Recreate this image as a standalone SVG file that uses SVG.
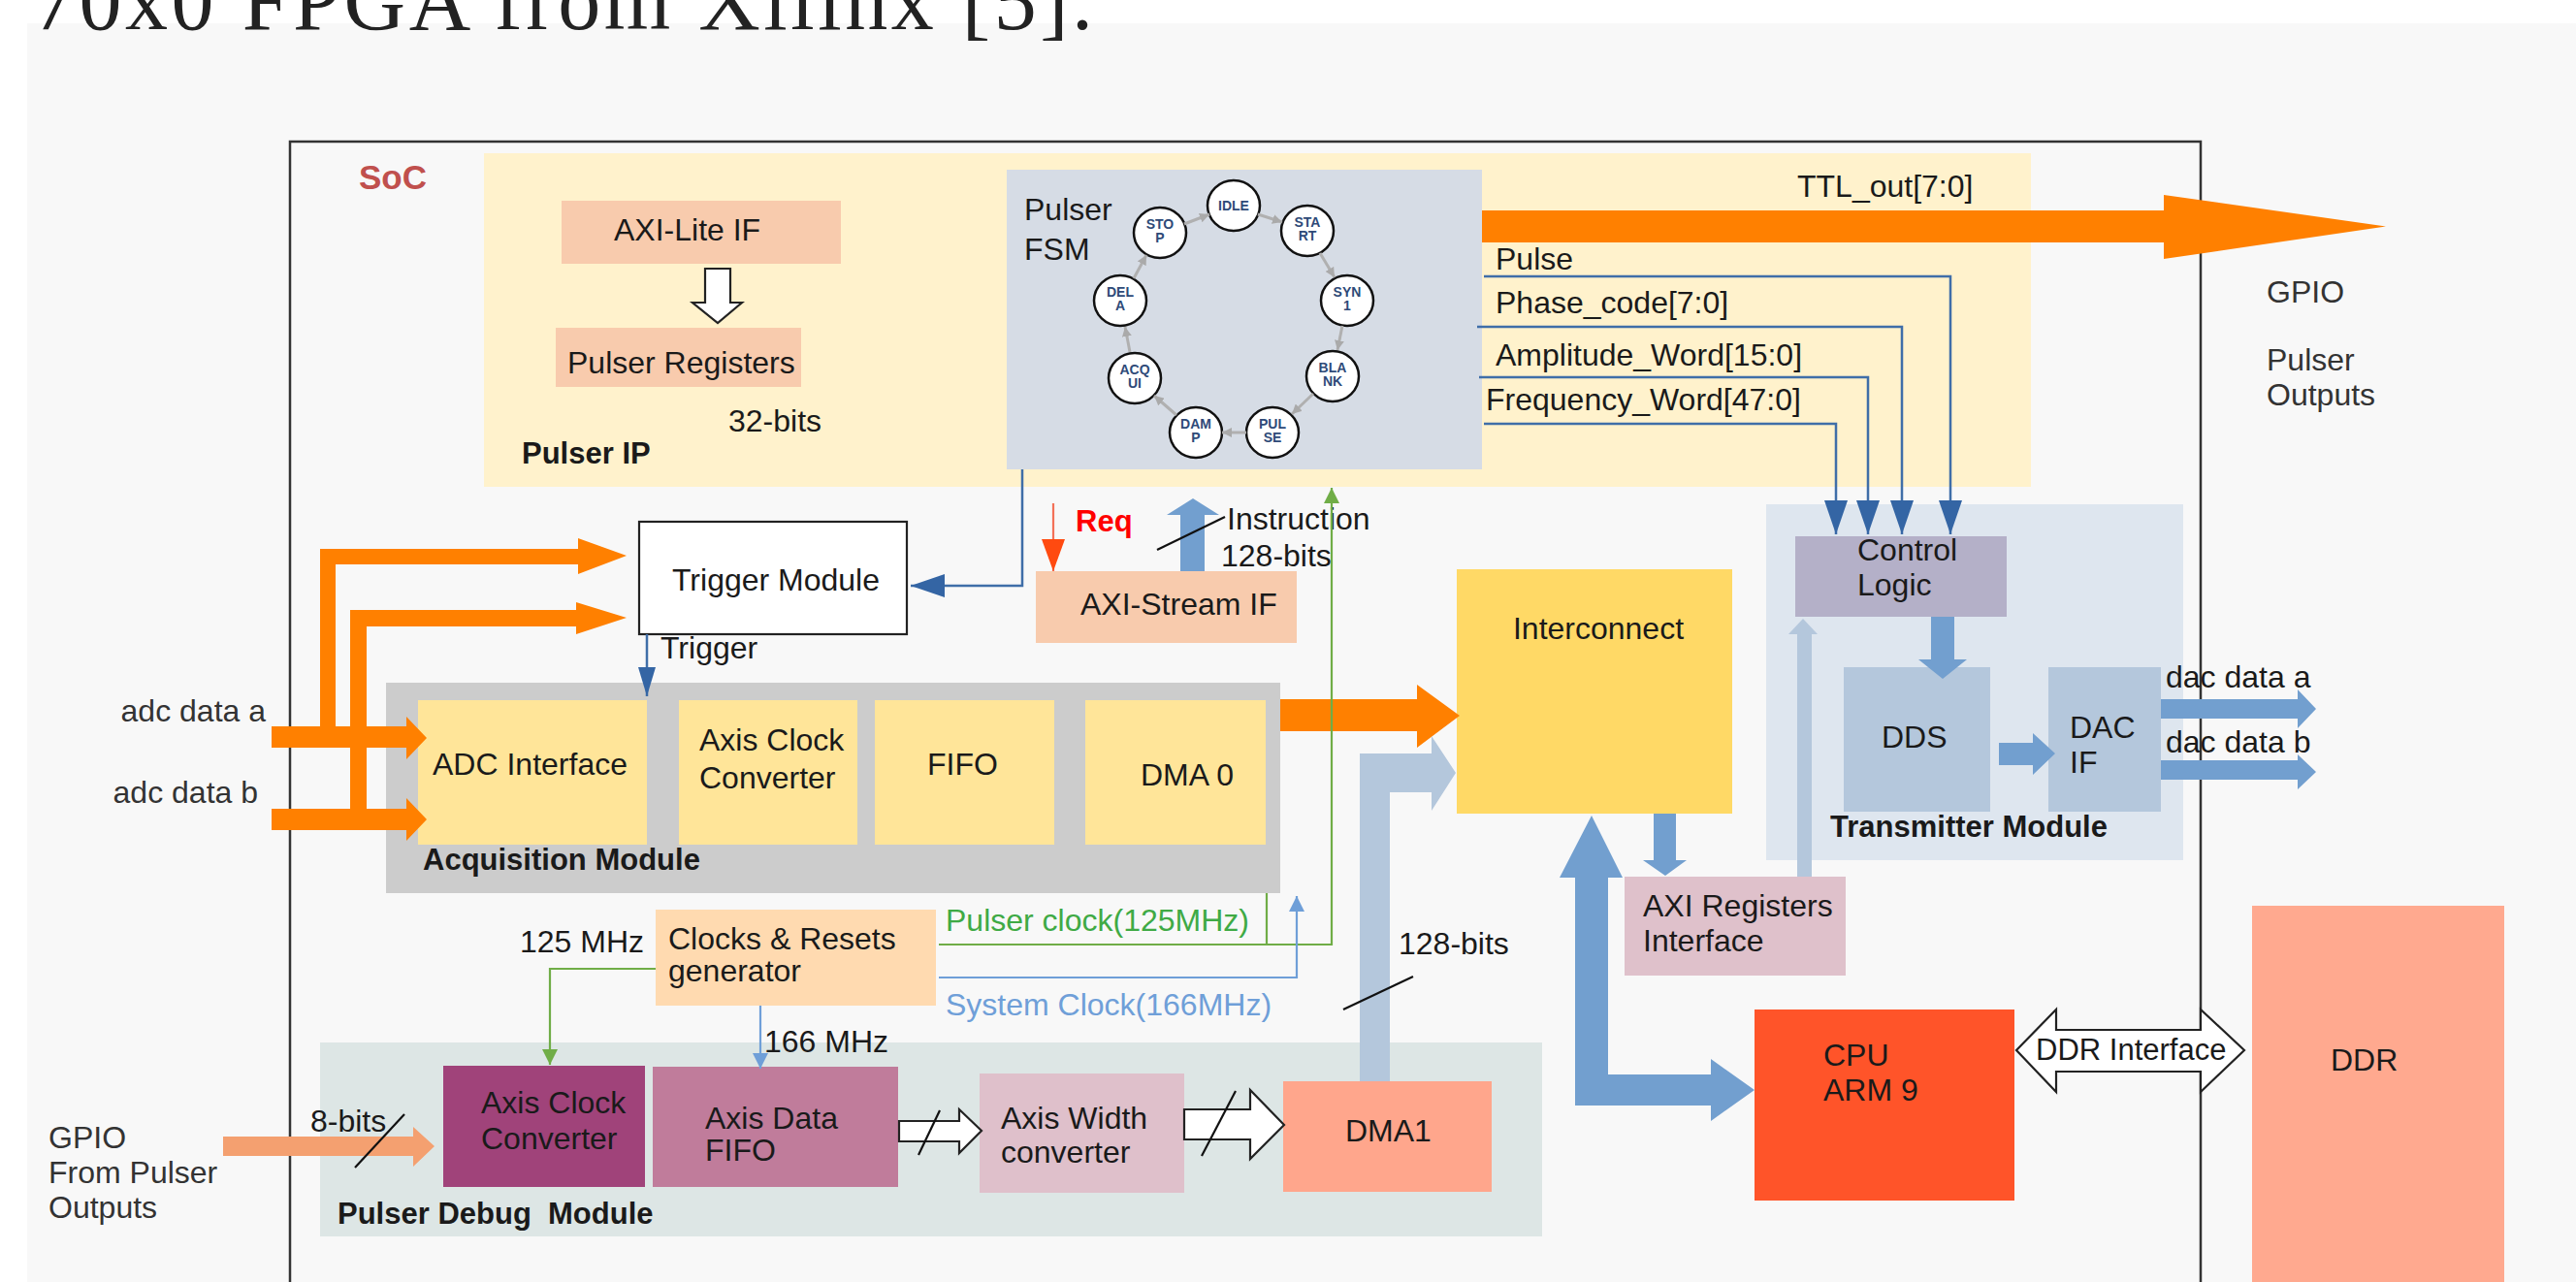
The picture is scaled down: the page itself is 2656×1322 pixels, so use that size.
<svg xmlns="http://www.w3.org/2000/svg" width="2656" height="1322" viewBox="0 0 2656 1322">
<defs>
<style>
.t{font-family:"Liberation Sans",Arial,sans-serif;font-size:32px;fill:#1a1a1a}
.b{font-weight:bold;font-size:31px}
.st{font-family:"Liberation Sans",Arial,sans-serif;font-size:14px;font-weight:bold;fill:#2e4a78;text-anchor:middle}
.state{fill:#fff;stroke:#111;stroke-width:2.5}
.sig{fill:none;stroke:#3f6ea8;stroke-width:2.5}
.hollow{fill:#fff;stroke:#222;stroke-width:2.2}
.slash{stroke:#111;stroke-width:2.2}
.or{fill:#ff8000}
.lb{fill:#b4c7dc}
.mb{fill:#729fcf}
.fsmarr{stroke:#b0b0b0;stroke-width:3;fill:none}
</style>
<marker id="aBlue" markerUnits="userSpaceOnUse" markerWidth="35" markerHeight="24" viewBox="0 0 35 24" refX="35" refY="12" orient="auto"><path d="M0,0L35,12L0,24z" fill="#3465a4"/></marker>
<marker id="aBlueS" markerUnits="userSpaceOnUse" markerWidth="30" markerHeight="18" viewBox="0 0 30 18" refX="30" refY="9" orient="auto"><path d="M0,0L30,9L0,18z" fill="#3465a4"/></marker>
<marker id="aRed" markerUnits="userSpaceOnUse" markerWidth="33" markerHeight="24" viewBox="0 0 33 24" refX="33" refY="12" orient="auto"><path d="M0,0L33,12L0,24z" fill="#ff4a10"/></marker>
<marker id="aGreen" markerUnits="userSpaceOnUse" markerWidth="16" markerHeight="16" viewBox="0 0 16 16" refX="16" refY="8" orient="auto"><path d="M0,0L16,8L0,16z" fill="#70ad47"/></marker>
<marker id="aLb" markerUnits="userSpaceOnUse" markerWidth="16" markerHeight="16" viewBox="0 0 16 16" refX="16" refY="8" orient="auto"><path d="M0,0L16,8L0,16z" fill="#6f9fd8"/></marker>
<marker id="aGrey" markerUnits="userSpaceOnUse" markerWidth="10" markerHeight="10" viewBox="0 0 10 10" refX="10" refY="5" orient="auto"><path d="M0,0L10,5L0,10z" fill="#aaa"/></marker>
</defs>

<rect x="0" y="0" width="2656" height="1322" fill="#ffffff"/>
<rect x="28" y="24" width="2628" height="1298" fill="#f8f8f8"/>
<text x="34" y="30" font-family="Liberation Serif, serif" font-size="88" fill="#222" textLength="1093" lengthAdjust="spacing">70x0 FPGA from Xilinx [5].</text>

<g id="soc">
<rect x="299" y="146" width="1970" height="1200" fill="none" stroke="#333" stroke-width="2.5"/>
<text x="370" y="195" class="t" style="font-size:35px;font-weight:bold;fill:#c0504d">SoC</text>
</g>

<g id="pulser-ip">
<rect x="499" y="158" width="1595" height="344" fill="#fff2cc"/>
<text x="538" y="478" class="t b">Pulser IP</text>
</g>

<g id="axi-lite-if">
<rect x="579" y="207" width="288" height="65" fill="#f8cbad"/>
<text x="633" y="248" class="t">AXI-Lite IF</text>
</g>

<g id="pulser-registers">
<rect x="573" y="338" width="253" height="61" fill="#f8cbad"/>
<text x="585" y="385" class="t">Pulser Registers</text>
<text x="751" y="445" class="t">32-bits</text>
</g>

<g id="pulser-fsm">
<rect x="1038" y="175" width="490" height="309" fill="#d6dce5"/>
<text x="1056" y="227" class="t">Pulser</text>
<text x="1056" y="268" class="t">FSM</text>
<g id="fsm-states">
<ellipse class="state" cx="1272" cy="212" rx="27" ry="26"/><text class="st" x="1272" y="217">IDLE</text>
<ellipse class="state" cx="1348" cy="238" rx="27" ry="26"/><text class="st" x="1348" y="234">STA</text><text class="st" x="1348" y="248">RT</text>
<ellipse class="state" cx="1389" cy="310" rx="27" ry="26"/><text class="st" x="1389" y="306">SYN</text><text class="st" x="1389" y="320">1</text>
<ellipse class="state" cx="1374" cy="388" rx="27" ry="26"/><text class="st" x="1374" y="384">BLA</text><text class="st" x="1374" y="398">NK</text>
<ellipse class="state" cx="1312" cy="446" rx="27" ry="26"/><text class="st" x="1312" y="442">PUL</text><text class="st" x="1312" y="456">SE</text>
<ellipse class="state" cx="1233" cy="446" rx="27" ry="26"/><text class="st" x="1233" y="442">DAM</text><text class="st" x="1233" y="456">P</text>
<ellipse class="state" cx="1170" cy="390" rx="27" ry="26"/><text class="st" x="1170" y="386">ACQ</text><text class="st" x="1170" y="400">UI</text>
<ellipse class="state" cx="1155" cy="310" rx="27" ry="26"/><text class="st" x="1155" y="306">DEL</text><text class="st" x="1155" y="320">A</text>
<ellipse class="state" cx="1196" cy="240" rx="27" ry="26"/><text class="st" x="1196" y="236">STO</text><text class="st" x="1196" y="250">P</text>
</g>
<g id="fsm-transitions">
<line class="fsmarr" x1="1221" y1="231" x2="1247" y2="221" marker-end="url(#aGrey)"/>
<line class="fsmarr" x1="1297" y1="221" x2="1322" y2="229" marker-end="url(#aGrey)"/>
<line class="fsmarr" x1="1361" y1="261" x2="1376" y2="286" marker-end="url(#aGrey)"/>
<line class="fsmarr" x1="1384" y1="336" x2="1379" y2="361" marker-end="url(#aGrey)"/>
<line class="fsmarr" x1="1354" y1="406" x2="1332" y2="427" marker-end="url(#aGrey)"/>
<line class="fsmarr" x1="1285" y1="446" x2="1260" y2="446" marker-end="url(#aGrey)"/>
<line class="fsmarr" x1="1213" y1="428" x2="1190" y2="408" marker-end="url(#aGrey)"/>
<line class="fsmarr" x1="1165" y1="363" x2="1160" y2="337" marker-end="url(#aGrey)"/>
<line class="fsmarr" x1="1169" y1="287" x2="1182" y2="263" marker-end="url(#aGrey)"/>
</g>
</g>

<g id="trigger-module">
<rect x="659" y="538" width="276" height="116" fill="#fff" stroke="#222" stroke-width="2.2"/>
<text x="693" y="609" class="t">Trigger Module</text>
</g>

<g id="axi-stream-if">
<rect x="1068" y="589" width="269" height="74" fill="#f8cbad"/>
<text x="1114" y="634" class="t">AXI-Stream IF</text>
</g>

<g id="interconnect">
<rect x="1502" y="587" width="284" height="252" fill="#ffd966"/>
<text x="1648" y="659" class="t" text-anchor="middle">Interconnect</text>
</g>

<g id="transmitter-module">
<rect x="1821" y="520" width="430" height="367" fill="#dee6ef"/>
<text x="1887" y="863" class="t b">Transmitter Module</text>
</g>

<g id="control-logic">
<rect x="1851" y="553" width="218" height="83" fill="#b4b0c8"/>
<text x="1915" y="578" class="t">Control</text>
<text x="1915" y="614" class="t">Logic</text>
</g>

<g id="dds">
<rect x="1901" y="688" width="151" height="149" fill="#b4c7dc"/>
<text x="1940" y="771" class="t">DDS</text>
</g>

<g id="dac-if">
<rect x="2112" y="688" width="116" height="149" fill="#b4c7dc"/>
<text x="2134" y="761" class="t">DAC</text>
<text x="2134" y="797" class="t">IF</text>
</g>

<g id="acquisition-module">
<rect x="398" y="704" width="922" height="217" fill="#cccccc"/>
<text x="436" y="897" class="t b">Acquisition Module</text>
</g>

<g id="adc-interface">
<rect x="431" y="722" width="236" height="149" fill="#ffe599"/>
<text x="446" y="799" class="t">ADC Interface</text>
</g>

<g id="axis-clock-converter-acq">
<rect x="700" y="722" width="184" height="149" fill="#ffe599"/>
<text x="721" y="774" class="t">Axis Clock</text>
<text x="721" y="813" class="t">Converter</text>
</g>

<g id="fifo">
<rect x="902" y="722" width="185" height="149" fill="#ffe599"/>
<text x="956" y="799" class="t">FIFO</text>
</g>

<g id="dma0">
<rect x="1119" y="722" width="186" height="149" fill="#ffe599"/>
<text x="1176" y="810" class="t">DMA 0</text>
</g>

<g id="clocks-resets">
<rect x="676" y="938" width="289" height="99" fill="#ffdab0"/>
<text x="689" y="979" class="t">Clocks &amp; Resets</text>
<text x="689" y="1012" class="t">generator</text>
</g>

<g id="axi-registers-interface">
<rect x="1675" y="904" width="228" height="102" fill="#dfc1cb"/>
<text x="1694" y="945" class="t">AXI Registers</text>
<text x="1694" y="981" class="t">Interface</text>
</g>

<g id="cpu">
<rect x="1809" y="1041" width="268" height="197" fill="#ff5429"/>
<text x="1880" y="1099" class="t">CPU</text>
<text x="1880" y="1135" class="t">ARM 9</text>
</g>

<g id="ddr">
<rect x="2322" y="934" width="260" height="400" fill="#ffa98f"/>
<text x="2403" y="1104" class="t">DDR</text>
</g>

<g id="pulser-debug-module">
<rect x="330" y="1075" width="1260" height="200" fill="#dde6e5"/>
<text x="348" y="1262" class="t b" style="white-space:pre">Pulser Debug  Module</text>
</g>

<g id="axis-clock-converter-dbg">
<rect x="457" y="1099" width="208" height="125" fill="#a0437a"/>
<text x="496" y="1148" class="t">Axis Clock</text>
<text x="496" y="1185" class="t">Converter</text>
</g>

<g id="axis-data-fifo">
<rect x="673" y="1100" width="253" height="124" fill="#c07c9b"/>
<text x="727" y="1164" class="t">Axis Data</text>
<text x="727" y="1197" class="t">FIFO</text>
</g>

<g id="axis-width-converter">
<rect x="1010" y="1107" width="211" height="123" fill="#dfc0cb"/>
<text x="1032" y="1164" class="t">Axis Width</text>
<text x="1032" y="1199" class="t">converter</text>
</g>

<g id="dma1">
<rect x="1323" y="1115" width="215" height="114" fill="#ffa68c"/>
<text x="1387" y="1177" class="t">DMA1</text>
</g>

<g id="external-labels">
<text x="2337" y="312" class="t" style="fill:#333">GPIO</text>
<text x="2337" y="382" class="t" style="fill:#333">Pulser</text>
<text x="2337" y="418" class="t" style="fill:#333">Outputs</text>
<text x="274" y="744" class="t" text-anchor="end" style="fill:#333">adc data a</text>
<text x="266" y="828" class="t" text-anchor="end" style="fill:#333">adc data b</text>
<text x="50" y="1184" class="t" style="fill:#333">GPIO</text>
<text x="50" y="1220" class="t" style="fill:#333">From Pulser</text>
<text x="50" y="1256" class="t" style="fill:#333">Outputs</text>
</g>

<g id="connectors">
<!-- TTL out -->
<polygon class="or" points="1528,217 2231,217 2231,201 2460,233.5 2231,267 2231,250 1528,250"/>
<text x="1853" y="203" class="t">TTL_out[7:0]</text>
<!-- FSM signals -->
<path class="sig" d="M1530,285 H2011 V551" marker-end="url(#aBlue)"/>
<path class="sig" d="M1523,337 H1961 V551" marker-end="url(#aBlue)"/>
<path class="sig" d="M1525,389 H1926 V551" marker-end="url(#aBlue)"/>
<path class="sig" d="M1530,437 H1893 V551" marker-end="url(#aBlue)"/>
<text x="1542" y="278" class="t">Pulse</text>
<text x="1542" y="323" class="t">Phase_code[7:0]</text>
<text x="1542" y="377" class="t">Amplitude_Word[15:0]</text>
<text x="1532" y="423" class="t">Frequency_Word[47:0]</text>
<!-- AXI-Lite -> registers -->
<polygon class="hollow" points="727,277 753,277 753,312 765,312 740,333 714,312 727,312"/>
<!-- FSM -> trigger -->
<path class="sig" d="M1054,484 V604 H939" marker-end="url(#aBlue)"/>
<!-- trigger -> acquisition -->
<path class="sig" d="M667,654 V718" marker-end="url(#aBlueS)"/>
<text x="681" y="679" class="t">Trigger</text>
<!-- Req -->
<path d="M1086,519 V589" stroke="#f37158" stroke-width="2.2" fill="none" marker-end="url(#aRed)"/>
<text x="1109" y="548" class="t b" style="fill:#ff0000">Req</text>
<!-- Instruction -->
<polygon class="mb" points="1217,589 1217,531 1203,531 1230,514 1257,531 1242,531 1242,589"/>
<line class="slash" x1="1193" y1="567" x2="1263" y2="533"/>
<text x="1265" y="546" class="t">Instruction</text>
<text x="1259" y="584" class="t">128-bits</text>
<!-- adc data arrows -->
<polygon class="or" points="280,749 419,749 419,739 440,761 419,783 419,771 280,771"/>
<polygon class="or" points="280,834 419,834 419,823 440,845 419,867 419,856 280,856"/>
<polygon class="or" points="330,760 330,566 596,566 596,555 646,573 596,592 596,582 346,582 346,760"/>
<polygon class="or" points="361,845 361,629 594,629 594,621 646,637 594,654 594,646 378,646 378,845"/>
<!-- DMA0 -> interconnect -->
<polygon class="or" points="1320,721 1461,721 1461,706 1505,738 1461,771 1461,754 1320,754"/>
<!-- clocks -->
<path d="M968,974 H1373 V503" fill="none" stroke="#70ad47" stroke-width="2.2" marker-end="url(#aGreen)"/>
<path d="M1306,974 V921" fill="none" stroke="#70ad47" stroke-width="2.2"/>
<text x="975" y="960" class="t" style="fill:#3faa45">Pulser clock(125MHz)</text>
<path d="M968,1008 H1337 V924" fill="none" stroke="#6f9fd8" stroke-width="2.2" marker-end="url(#aLb)"/>
<text x="975" y="1047" class="t" style="fill:#6f9fd8">System Clock(166MHz)</text>
<path d="M676,999 H567 V1098" fill="none" stroke="#70ad47" stroke-width="2.2" marker-end="url(#aGreen)"/>
<text x="536" y="982" class="t">125 MHz</text>
<path d="M784,1037 V1102" fill="none" stroke="#6f9fd8" stroke-width="2.2" marker-end="url(#aLb)"/>
<text x="788" y="1085" class="t">166 MHz</text>
<!-- DMA1 -> interconnect -->
<polygon class="lb" points="1402,1115 1402,777 1476,777 1476,759 1501,797 1476,836 1476,817 1433,817 1433,1115"/>
<line class="slash" x1="1385" y1="1041" x2="1457" y2="1007"/>
<text x="1442" y="984" class="t">128-bits</text>
<!-- interconnect <-> CPU -->
<polygon class="mb" points="1641,841 1673,905 1658,905 1658,1108 1764,1108 1764,1092 1809,1124 1764,1156 1764,1140 1624,1140 1624,905 1608,905"/>
<!-- interconnect -> AXI registers -->
<polygon class="mb" points="1705,839 1728,839 1728,887 1739,887 1717,903 1694,887 1705,887"/>
<!-- AXI registers -> control logic -->
<polygon class="lb" points="1853,904 1853,654 1844,654 1859,638 1874,654 1868,654 1868,904"/>
<!-- control logic -> DDS -->
<polygon class="mb" points="1991,636 2015,636 2015,680 2028,680 2003,700 1978,680 1991,680"/>
<!-- DDS -> DAC IF -->
<polygon class="mb" points="2061,766 2096,766 2096,756 2119,777 2096,799 2096,789 2061,789"/>
<!-- dac outputs -->
<polygon class="mb" points="2228,721 2369,721 2369,711 2388,731 2369,751 2369,741 2228,741"/>
<polygon class="mb" points="2228,784 2369,784 2369,778 2388,796 2369,814 2369,804 2228,804"/>
<text x="2233" y="709" class="t">dac data a</text>
<text x="2233" y="776" class="t">dac data b</text>
<!-- DDR interface -->
<polygon class="hollow" points="2079,1083 2120,1041 2120,1062 2269,1062 2269,1041 2314,1083 2269,1126 2269,1105 2120,1105 2120,1126"/>
<text x="2099" y="1093" class="t" style="font-size:31px">DDR Interface</text>
<!-- GPIO input -->
<polygon points="230,1172 426,1172 426,1162 448,1182 426,1203 426,1192 230,1192" fill="#f4a070"/>
<line class="slash" x1="366" y1="1204" x2="417" y2="1149"/>
<text x="320" y="1167" class="t">8-bits</text>
<!-- debug chain -->
<polygon class="hollow" points="927,1156 989,1156 989,1144 1012,1166 989,1189 989,1177 927,1177"/>
<line class="slash" x1="947" y1="1191" x2="969" y2="1145"/>
<polygon class="hollow" points="1221,1144 1289,1144 1289,1124 1324,1160 1289,1195 1289,1175 1221,1175"/>
<line class="slash" x1="1239" y1="1192" x2="1274" y2="1125"/>
</g>
</svg>
